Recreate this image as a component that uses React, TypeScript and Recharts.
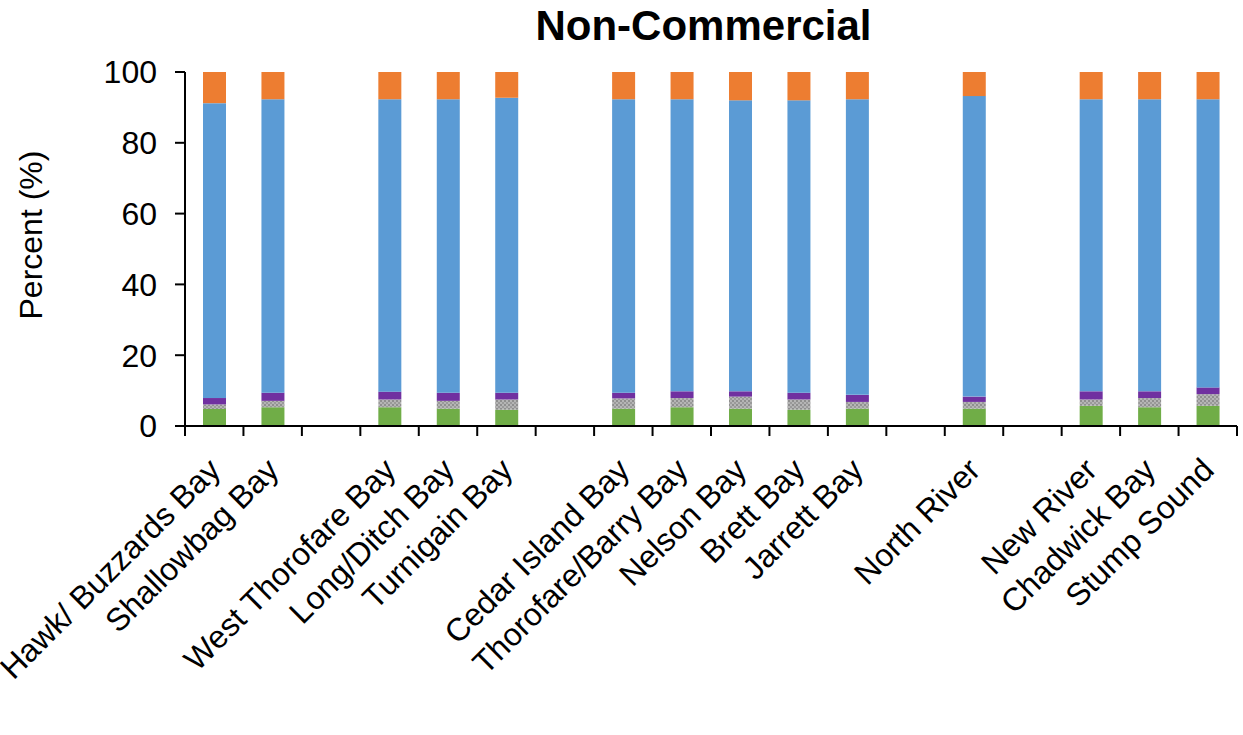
import { BarChart, Bar, XAxis, YAxis } from 'recharts'

const categories = [
  'Hawk/ Buzzards Bay',
  'Shallowbag Bay',
  '',
  'West Thorofare Bay',
  'Long/Ditch Bay',
  'Turnigain Bay',
  '',
  'Cedar Island Bay',
  'Thorofare/Barry Bay',
  'Nelson Bay',
  'Brett Bay',
  'Jarrett Bay',
  '',
  'North River',
  '',
  'New River',
  'Chadwick Bay',
  'Stump Sound',
]

const greenValues = [4.8, 5.3, null, 5.3, 4.9, 4.6, null, 4.9, 5.3, 4.9, 4.6, 4.9, null, 4.9, null, 5.7, 5.3, 5.7]
const grayValues = [1.3, 1.8, null, 2.2, 2.2, 2.9, null, 2.9, 2.6, 3.4, 2.9, 1.9, null, 1.9, null, 1.8, 2.6, 3.3]
const purpleValues = [1.8, 2.3, null, 2.2, 2.3, 1.9, null, 1.6, 1.9, 1.5, 1.9, 2.0, null, 1.5, null, 2.3, 1.9, 1.9]
const blueValues = [83.3, 82.9, null, 82.6, 82.9, 83.3, null, 82.9, 82.5, 82.2, 82.6, 83.5, null, 84.9, null, 82.5, 82.5, 81.4]
const orangeValues = [8.8, 7.7, null, 7.7, 7.7, 7.3, null, 7.7, 7.7, 8.0, 8.0, 7.7, null, 6.8, null, 7.7, 7.7, 7.7]

const yTicks = [0, 20, 40, 60, 80, 100]

const data = categories.map((name, i) => ({
  name,
  green: greenValues[i],
  gray: grayValues[i],
  purple: purpleValues[i],
  blue: blueValues[i],
  orange: orangeValues[i],
}))

const FONT = '"Liberation Sans", Arial, sans-serif'
const CHART_W = 1243
const CHART_H = 735
const PLOT_LEFT = 185
const PLOT_RIGHT = 6
const PLOT_BOTTOM = 426
const step = (CHART_W - PLOT_LEFT - PLOT_RIGHT) / categories.length

function CategoryTick(props: any) {
  const { x, payload, index } = props
  const last = index === categories.length - 1
  const ax = x + 8
  const ay = PLOT_BOTTOM + 46
  return (
    <g>
      <line x1={x - step / 2} x2={x - step / 2} y1={PLOT_BOTTOM} y2={PLOT_BOTTOM + 10} stroke="#000" strokeWidth={2} />
      {last && (
        <line x1={x + step / 2} x2={x + step / 2} y1={PLOT_BOTTOM} y2={PLOT_BOTTOM + 10} stroke="#000" strokeWidth={2} />
      )}
      <text
        x={ax}
        y={ay}
        textAnchor="end"
        fontSize={32}
        fill="#000"
        fontFamily={FONT}
        transform={`rotate(-45, ${ax}, ${ay})`}
      >
        {payload.value}
      </text>
    </g>
  )
}

function YLabel() {
  return (
    <text
      x={42}
      y={235}
      textAnchor="middle"
      fontSize={32}
      fill="#000"
      fontFamily={FONT}
      transform="rotate(-90, 42, 235)"
    >
      Percent (%)
    </text>
  )
}

export default function App() {
  return (
    <div style={{ position: 'absolute', left: 0, top: 0, width: CHART_W, height: CHART_H, background: '#fff' }}>
      <svg width={0} height={0} style={{ position: 'absolute' }}>
        <defs>
          <pattern id="grayHatch" width={4} height={4} patternUnits="userSpaceOnUse">
            <rect width={4} height={4} fill="#b5b5b5" />
            <rect x={0} y={0} width={2} height={2} fill="#8f8f8f" />
            <rect x={2} y={2} width={2} height={2} fill="#9a9a9a" />
          </pattern>
        </defs>
      </svg>
      <div
        style={{
          position: 'absolute',
          left: 0,
          width: 1407,
          top: 2,
          textAlign: 'center',
          fontFamily: FONT,
          fontWeight: 'bold',
          fontSize: 42,
          color: '#000',
        }}
      >
        Non-Commercial
      </div>
      <BarChart
        width={CHART_W}
        height={CHART_H}
        data={data}
        margin={{ top: 72, right: PLOT_RIGHT, left: 0, bottom: 0 }}
        barSize={23}
      >
        <XAxis
          dataKey="name"
          height={CHART_H - PLOT_BOTTOM}
          interval={0}
          axisLine={{ stroke: '#000', strokeWidth: 2 }}
          tickLine={false}
          tick={<CategoryTick />}
        />
        <YAxis
          width={PLOT_LEFT}
          domain={[0, 100]}
          ticks={yTicks}
          axisLine={{ stroke: '#000', strokeWidth: 2 }}
          tickLine={{ stroke: '#000', strokeWidth: 2 }}
          tickSize={10}
          tickMargin={18}
          tick={{ fontSize: 32, fill: '#000', fontFamily: FONT }}
          label={<YLabel />}
        />
        <Bar dataKey="green" stackId="a" fill="#70AD47" isAnimationActive={false} />
        <Bar dataKey="gray" stackId="a" fill="url(#grayHatch)" isAnimationActive={false} />
        <Bar dataKey="purple" stackId="a" fill="#7030A0" isAnimationActive={false} />
        <Bar dataKey="blue" stackId="a" fill="#5B9BD5" isAnimationActive={false} />
        <Bar dataKey="orange" stackId="a" fill="#ED7D31" isAnimationActive={false} />
      </BarChart>
    </div>
  )
}
